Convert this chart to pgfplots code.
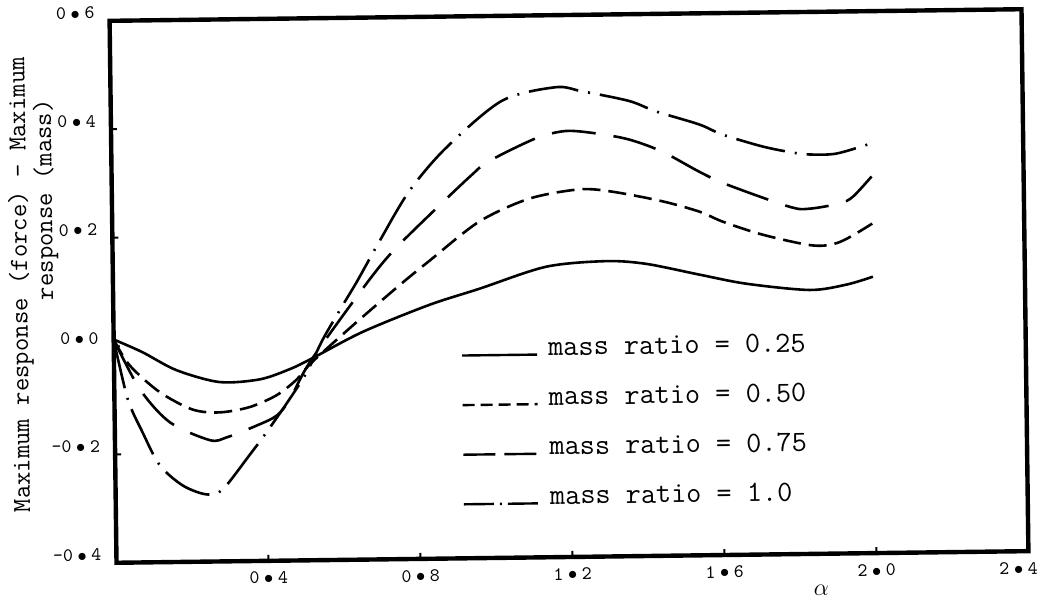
\documentclass[border=0pt]{standalone}
\usepackage{fontspec}
\usepackage{pgfplots}
\pgfplotsset{compat=1.18}

% typewriter tick labels: digit, spaced bullet, digit
\newcommand{\tl}[2]{#1\kern2.3pt$\bullet$\kern2.3pt#2}

\begin{document}
\begin{tikzpicture}
\begin{scope}[rotate around={0.73:(284.5pt,156pt)}, transform shape]
\begin{axis}[
    at={(56.5pt,20.5pt)}, anchor=south west,
    width=456pt, height=271pt, scale only axis,
    xmin=0, xmax=2.4, ymin=-0.4, ymax=0.6,
    axis line style={line width=2.2pt},
    tick align=inside, tick pos=left,
    major tick length=3pt,
    tick style={line width=1pt, black},
    xtick={0.4,0.8,1.2,1.6,2.0,2.4},
    xticklabels={\tl04,\tl08,\tl12,\tl16,\tl20,\tl24\hspace*{10pt}},
    ytick={-0.4,-0.2,0,0.2,0.4,0.6},
    yticklabels={-\tl04,-\tl02,\tl00,\tl02,\tl04,\tl06},
    ticklabel style={font=\ttfamily\fontsize{9.5}{10}\selectfont},
    yticklabel style={xshift=-4pt, yshift=4pt},
    xticklabel style={yshift=-2pt},
    xlabel={$\alpha$},
    xlabel style={at={(axis description cs:0.7725,-0.068)}, anchor=center, font=\large},
    ylabel={Maximum response (force) - Maximum\\\hspace*{106pt}response (mass)},
    ylabel style={at={(axis description cs:-0.0866,0.515)}, anchor=center,
                  align=left, font=\ttfamily\fontsize{13}{8.5}\selectfont},
    legend style={at={(axis cs:0.912,0.0137)}, anchor=north west,
                  draw=none, fill=none, inner sep=0pt, row sep=11.8pt,
                  font=\ttfamily\fontsize{14.7}{15}\selectfont,
                  nodes={inner sep=2pt, text height=9pt, text depth=0pt}},
    legend cell align=left,
    legend image code/.code={\draw[#1, line width=1.2pt] (0pt,-4pt) -- (37.5pt,-4pt);
                             \path (40.5pt,-4pt);},
    every axis plot/.append style={line width=1.3pt, black, smooth},
]
\addlegendimage{solid}
\addlegendentry{mass ratio = 0.25}
\addlegendimage{dash pattern=on 6pt off 3pt}
\addlegendentry{mass ratio = 0.50}
\addlegendimage{dash pattern=on 16pt off 4.5pt}
\addlegendentry{mass ratio = 0.75}
\addlegendimage{dash pattern=on 15pt off 3pt on 1pt off 3pt}
\addlegendentry{mass ratio = 1.0}

% mass ratio 0.25
\addplot[solid, forget plot] coordinates {
  (0,0.012) (0.075,-0.012) (0.164,-0.046) (0.277,-0.069) (0.383,-0.065)
  (0.462,-0.047) (0.523,-0.027) (0.655,0.020) (0.83,0.068) (0.964,0.097)
  (1.14,0.136) (1.298,0.145) (1.404,0.139) (1.543,0.118) (1.667,0.100)
  (1.833,0.087) (1.93,0.096) (2.0,0.110)
};
% mass ratio 0.50
\addplot[dash pattern=on 9pt off 4pt, forget plot] coordinates {
  (0,0.012) (0.041,-0.036) (0.119,-0.086) (0.205,-0.119) (0.276,-0.125)
  (0.355,-0.116) (0.426,-0.095) (0.479,-0.067) (0.522,-0.034) (0.631,0.033)
  (0.755,0.106) (0.834,0.150) (0.966,0.221) (1.098,0.262) (1.23,0.278)
  (1.317,0.273) (1.449,0.254) (1.546,0.234) (1.607,0.215) (1.712,0.190)
  (1.844,0.169) (1.915,0.175) (2.0,0.208)
};
% mass ratio 0.75
\addplot[dash pattern=on 22pt off 9pt, forget plot] coordinates {
  (0,0.012) (0.067,-0.080) (0.145,-0.142) (0.25,-0.176) (0.295,-0.171)
  (0.374,-0.150) (0.427,-0.132) (0.462,-0.102) (0.516,-0.034) (0.657,0.100)
  (0.736,0.167) (0.853,0.246) (0.949,0.308) (0.993,0.332) (1.117,0.373)
  (1.196,0.386) (1.275,0.381) (1.362,0.369) (1.449,0.346) (1.546,0.308)
  (1.617,0.284) (1.783,0.241) (1.836,0.237) (1.915,0.246) (1.95,0.258)
  (2.0,0.295)
};
% mass ratio 1.0
\addplot[dash pattern=on 25pt off 5pt on 1pt off 5pt, forget plot] coordinates {
  (0,0.012) (0.035,-0.098) (0.073,-0.160) (0.117,-0.221) (0.177,-0.259)
  (0.239,-0.276) (0.282,-0.267) (0.353,-0.205) (0.399,-0.163) (0.461,-0.102)
  (0.507,-0.053) (0.551,0.008) (0.605,0.071) (0.642,0.113) (0.702,0.186)
  (0.782,0.278) (0.880,0.357) (1.029,0.443) (1.171,0.467) (1.24,0.459)
  (1.364,0.440) (1.435,0.420) (1.548,0.395) (1.608,0.376) (1.713,0.353)
  (1.792,0.341) (1.837,0.337) (1.908,0.338) (2.0,0.356)
};
\end{axis}
\end{scope}
\pgfresetboundingbox
\useasboundingbox (0,0) rectangle (520pt,299pt);
\end{tikzpicture}
\end{document}
